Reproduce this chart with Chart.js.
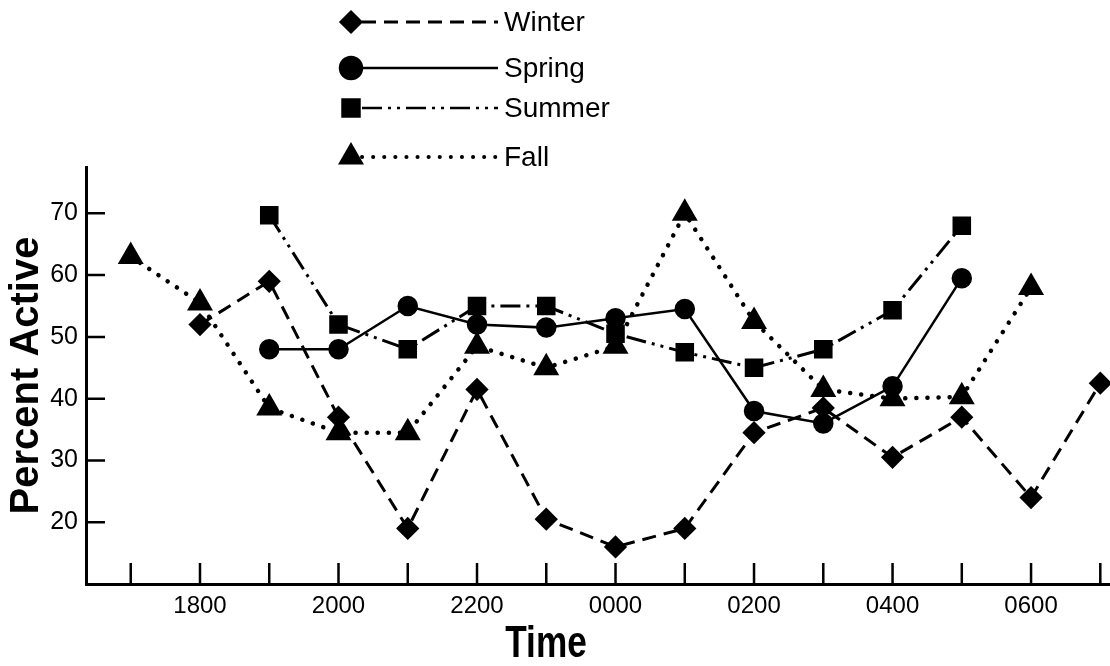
<!DOCTYPE html>
<html lang="en">
<head>
  <meta charset="UTF-8">
  <title>Percent Active by Time</title>
  <script src="https://cdn.jsdelivr.net/npm/chart.js"></script>
  <style>
    body {
      margin: 0;
      background-color: #fff;
    }
    canvas {
      display: block;
    }
  </style>
</head>
<body>
  <canvas id="activityChart" width="1110" height="666"></canvas>
  <script>
    // hours along the x axis (index 0 = 1700)
    var hours = ['1700', '1800', '1900', '2000', '2100', '2200', '2300', '0000',
                 '0100', '0200', '0300', '0400', '0500', '0600', '0700'];

    // percent active per hour, null where the season has no reading
    var winter = [null, 52, 59, 37, 19, 41.5, 20.5, 16, 19, 34.5, 38.5, 30.5, 37, 24, 42.5];
    var spring = [null, null, 48, 48, 55, 52, 51.5, 53, 54.5, 38, 36, 42, 59.5, null, null];
    var summer = [null, null, 69.7, 52, 48, 55, 55, 50.5, 47.5, 45, 48, 54.3, 68, null, null];
    var fall = [63, 55.5, 38.5, 34.5, 34.5, 48.5, 45, 48.5, 70, 52.5, 41.5, 40, 40.3, 58, null];

    var yLabels = [20, 30, 40, 50, 60, 70];

    var sans = "'Liberation Sans', Arial, Helvetica, sans-serif";

    function toPoints(values) {
      var pts = [];
      values.forEach(function(v, i) {
        if (v !== null) pts.push({ x: i, y: v });
      });
      return pts;
    }

    // ticks point inward from the axes, like the printed figure
    var inwardTicks = {
      id: 'inwardTicks',
      afterDraw: function(chart) {
        var ctx = chart.ctx;
        var xs = chart.scales.x;
        var ys = chart.scales.y;
        var area = chart.chartArea;
        ctx.save();
        ctx.strokeStyle = '#000';
        ctx.lineWidth = 2.5;
        ctx.beginPath();
        for (var i = 0; i < hours.length; i++) {
          var px = xs.getPixelForValue(i);
          ctx.moveTo(px, area.bottom);
          ctx.lineTo(px, area.bottom - 21);
        }
        ys.ticks.forEach(function(t) {
          if (t.value <= ys.min) return;
          var py = ys.getPixelForValue(t.value);
          ctx.moveTo(area.left, py);
          ctx.lineTo(area.left + 19, py);
        });
        ctx.stroke();

        // x axis title, condensed bold like the original
        ctx.fillStyle = '#000';
        ctx.translate(546, 657);
        ctx.scale(0.8, 1);
        ctx.font = 'bold 44px ' + sans;
        ctx.textAlign = 'center';
        ctx.textBaseline = 'alphabetic';
        ctx.fillText('Time', 0, 0);
        ctx.restore();
      }
    };

    // legend: marker, sample of the line, then the label
    var lineLegend = {
      id: 'lineLegend',
      afterDraw: function(chart) {
        var ctx = chart.ctx;
        var rows = [22, 68, 108, 157];
        ctx.save();
        chart.data.datasets.forEach(function(ds, i) {
          var y = rows[i];
          ctx.strokeStyle = '#000';
          ctx.fillStyle = '#000';
          ctx.lineWidth = ds.legendLineWidth;
          ctx.lineCap = ds.borderCapStyle || 'butt';
          ctx.setLineDash(ds.borderDash || []);
          ctx.beginPath();
          ctx.moveTo(362, y);
          ctx.lineTo(498, y);
          ctx.stroke();
          ctx.setLineDash([]);
          Chart.helpers.drawPoint(ctx, {
            pointStyle: ds.pointStyle,
            radius: ds.legendRadius,
            borderWidth: 1,
            rotation: 0
          }, 351, y);
          ctx.fill();
          ctx.font = '28px ' + sans;
          ctx.textAlign = 'left';
          ctx.textBaseline = 'middle';
          ctx.fillText(ds.label, 504, y + 1);
        });
        ctx.restore();
      }
    };

    var ctx = document.getElementById('activityChart').getContext('2d');

    var activityChart = new Chart(ctx, {
      type: 'line',
      data: {
        datasets: [{
          label: 'Winter',
          data: toPoints(winter),
          borderColor: '#000',
          backgroundColor: '#000',
          borderWidth: 3,
          borderDash: [14, 8],
          pointStyle: 'rectRot',
          pointRadius: 9.5,
          legendRadius: 10,
          legendLineWidth: 3
        }, {
          label: 'Spring',
          data: toPoints(spring),
          borderColor: '#000',
          backgroundColor: '#000',
          borderWidth: 2.5,
          pointStyle: 'circle',
          pointRadius: 9,
          legendRadius: 11,
          legendLineWidth: 2.5
        }, {
          label: 'Summer',
          data: toPoints(summer),
          borderColor: '#000',
          backgroundColor: '#000',
          borderWidth: 3,
          borderDash: [20, 6, 3, 6, 3, 6],
          pointStyle: 'rect',
          pointRadius: 11,
          legendRadius: 12,
          legendLineWidth: 2.5
        }, {
          label: 'Fall',
          data: toPoints(fall),
          borderColor: '#000',
          backgroundColor: '#000',
          borderWidth: 4.5,
          borderDash: [0.1, 11],
          borderCapStyle: 'round',
          pointStyle: 'triangle',
          pointRadius: 10.5,
          legendRadius: 11,
          legendLineWidth: 4
        }]
      },
      options: {
        responsive: false,
        animation: false,
        devicePixelRatio: 1,
        layout: {
          autoPadding: false,
          padding: { top: 167, right: 0, bottom: 0, left: 0 }
        },
        plugins: {
          legend: { display: false },
          tooltip: { enabled: false }
        },
        elements: {
          line: { tension: 0 },
          point: { borderWidth: 1 }
        },
        scales: {
          x: {
            type: 'linear',
            min: -0.646,
            max: 14.14,
            afterFit: function(scale) {
              scale.height = 82;
              scale.paddingLeft = 0;
              scale.paddingRight = 0;
            },
            grid: { drawOnChartArea: false, drawTicks: false },
            border: { display: true, color: '#000', width: 3 },
            ticks: {
              stepSize: 1,
              includeBounds: false,
              autoSkip: false,
              maxRotation: 0,
              padding: 8,
              color: '#000',
              font: { family: sans, size: 24 },
              callback: function(value) {
                return value % 2 === 1 ? hours[value] : '';
              }
            }
          },
          y: {
            min: 10,
            max: 77.5,
            afterFit: function(scale) { scale.width = 86; },
            grid: { drawOnChartArea: false, drawTicks: false },
            border: { display: true, color: '#000', width: 3 },
            title: {
              display: true,
              text: 'Percent Active',
              color: '#000',
              font: { family: sans, size: 40, weight: 'bold' },
              padding: { top: 3, bottom: 0 }
            },
            ticks: {
              stepSize: 5,
              includeBounds: false,
              padding: 8,
              color: '#000',
              font: { family: sans, size: 25 },
              callback: function(value) {
                return yLabels.indexOf(value) >= 0 ? value : '';
              }
            }
          }
        }
      },
      plugins: [inwardTicks, lineLegend]
    });
  </script>
</body>
</html>
